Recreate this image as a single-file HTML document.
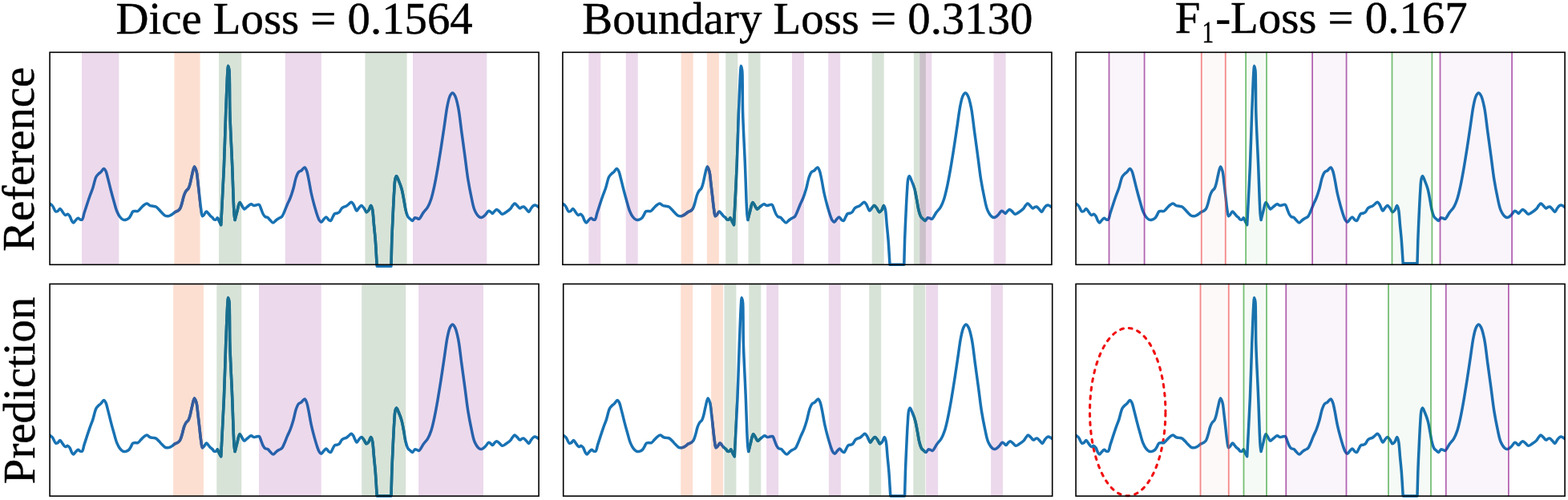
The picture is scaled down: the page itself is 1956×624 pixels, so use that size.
<!DOCTYPE html>
<html><head><meta charset="utf-8"><title>Loss comparison</title>
<style>text{text-rendering:geometricPrecision}html,body{margin:0;padding:0;background:#fff;overflow:hidden}svg{display:block}</style>
</head><body>
<svg width="1956" height="624" viewBox="0 0 1956 624">
<defs>
<path id="sig3288" d="M62.00,254.00 C63.25,255.08 64.61,255.85 65.75,257.25 C67.17,259.00 68.12,263.36 69.50,264.00 C70.29,264.37 71.19,263.93 72.00,263.50 C73.04,262.94 74.02,260.43 75.00,260.50 C76.10,260.57 77.15,263.39 78.25,264.75 C79.31,266.06 80.33,268.23 81.50,268.50 C82.44,268.72 83.60,267.07 84.50,267.25 C85.44,267.44 86.26,268.66 87.00,269.75 C87.99,271.21 88.61,274.02 89.50,275.50 C90.14,276.56 90.75,277.97 91.50,278.00 C92.38,278.03 93.47,275.73 94.50,274.75 C95.47,273.83 96.53,272.29 97.50,272.25 C98.36,272.21 99.12,273.72 100.00,274.00 C100.80,274.25 101.80,274.51 102.50,274.00 C103.78,273.06 104.10,268.81 105.00,266.00 C106.00,262.85 107.12,259.43 108.25,256.00 C109.45,252.36 110.72,248.38 112.00,244.75 C113.22,241.31 114.52,238.40 115.75,234.75 C117.20,230.44 118.29,223.61 120.00,220.50 C120.99,218.70 122.19,217.77 123.25,216.75 C124.10,215.93 124.87,215.59 125.75,214.75 C126.92,213.64 128.38,210.48 129.50,210.50 C130.43,210.51 131.28,212.14 132.00,213.50 C133.10,215.58 133.61,218.93 134.50,222.25 C135.66,226.57 136.97,232.37 138.25,237.25 C139.48,241.94 140.72,246.53 142.00,251.00 C143.22,255.27 144.30,259.99 145.75,263.50 C146.88,266.24 148.08,268.66 149.50,270.50 C150.64,271.98 151.89,273.41 153.25,274.00 C154.42,274.51 155.79,274.51 157.00,274.25 C158.29,273.97 159.72,273.19 160.75,272.25 C161.81,271.29 162.44,269.82 163.25,268.50 C164.11,267.08 164.71,264.76 165.75,264.00 C166.48,263.47 167.33,263.59 168.25,263.50 C169.37,263.39 170.84,263.98 172.00,263.50 C173.38,262.93 174.50,261.00 175.75,259.75 C177.00,258.50 178.17,256.98 179.50,256.00 C180.69,255.12 182.02,253.94 183.25,254.00 C184.52,254.06 185.69,255.96 187.00,256.50 C188.20,257.00 189.50,257.00 190.75,257.25 C192.00,257.50 193.33,257.40 194.50,258.00 C195.86,258.70 197.02,260.27 198.25,261.50 C199.52,262.77 200.73,264.23 202.00,265.50 C203.23,266.73 204.39,268.30 205.75,269.00 C206.92,269.60 208.38,269.80 209.50,269.75 C210.42,269.71 211.15,269.37 212.00,269.00 C212.98,268.57 214.00,267.92 215.00,267.25 C216.09,266.52 217.09,265.46 218.25,264.75 C219.42,264.04 220.93,263.75 222.00,263.00 C222.99,262.31 223.77,261.65 224.50,260.50 C225.56,258.83 226.22,256.03 227.00,253.50 C227.90,250.59 228.54,246.70 229.50,244.00 C230.25,241.88 230.99,240.03 232.00,238.50 C232.87,237.19 234.20,236.57 235.00,235.25 C235.93,233.73 236.36,231.93 237.00,229.75 C237.89,226.69 238.57,222.17 239.50,218.50 C240.41,214.93 241.43,208.08 242.50,208.00 C243.30,207.94 244.33,211.15 245.00,213.50 C246.07,217.21 246.36,223.30 247.00,228.50 C247.69,234.11 248.35,240.39 249.00,246.00 C249.60,251.19 250.07,256.68 250.75,261.00 C251.27,264.32 251.50,269.41 252.50,269.75 C253.04,269.93 253.81,268.75 254.50,268.00 C255.45,266.98 256.50,264.07 257.50,264.00 C258.34,263.94 259.17,265.59 260.00,266.50 C260.92,267.49 261.83,268.87 262.75,269.75 C263.50,270.47 264.31,270.82 265.00,271.50 C265.73,272.22 266.19,273.61 267.00,274.00 C267.72,274.35 268.81,274.34 269.50,274.00 C270.24,273.64 270.69,271.69 271.25,271.75 C271.96,271.83 272.53,274.56 273.25,276.00 C274.01,277.51 274.88,279.07 275.70,280.60 C276.20,271.07 276.66,262.59 277.20,252.00 C277.87,238.76 278.72,223.72 279.40,207.30 C280.24,187.16 281.00,158.80 281.70,140.00 C282.20,126.44 282.65,114.58 283.10,105.00 C283.41,98.32 283.67,92.15 284.00,88.00 C284.19,85.59 284.27,82.32 284.60,82.30 C284.92,82.28 285.59,85.26 285.90,87.50 C286.44,91.43 286.26,97.44 286.40,104.00 C286.60,113.69 286.42,126.14 286.80,140.00 C287.31,158.96 288.91,187.15 289.70,207.30 C290.35,223.72 290.79,240.85 291.30,252.00 C291.61,258.68 291.80,263.85 292.20,268.00 C292.46,270.65 292.80,272.33 293.10,274.50 C294.07,270.67 294.99,266.73 296.00,263.00 C296.96,259.44 297.79,252.82 299.00,252.60 C299.75,252.47 300.66,254.74 301.50,256.00 C302.49,257.49 303.47,260.75 304.50,261.00 C305.15,261.16 305.79,260.27 306.50,259.75 C307.42,259.08 308.42,258.06 309.50,257.25 C310.66,256.38 312.03,254.81 313.25,254.75 C314.36,254.70 315.41,256.32 316.50,256.50 C317.49,256.66 318.44,256.16 319.50,256.00 C320.68,255.82 322.26,254.95 323.25,255.50 C324.50,256.19 324.94,259.10 325.75,261.00 C326.61,263.01 327.29,265.56 328.25,267.25 C329.00,268.57 329.73,269.79 330.75,270.50 C331.68,271.14 333.01,270.88 334.00,271.50 C335.13,272.21 335.91,273.70 337.00,274.75 C338.15,275.87 339.50,278.00 340.75,278.00 C342.00,278.00 343.22,275.73 344.50,274.75 C345.72,273.82 347.03,272.98 348.25,272.25 C349.36,271.59 350.56,271.45 351.50,270.50 C352.75,269.24 353.50,266.92 354.50,264.75 C355.74,262.06 356.97,258.48 358.25,255.50 C359.47,252.66 360.82,250.25 362.00,247.25 C363.35,243.82 364.57,240.04 365.75,236.00 C367.09,231.38 368.10,224.87 369.50,221.00 C370.43,218.41 371.22,216.09 372.50,214.75 C373.43,213.77 374.65,213.79 375.75,213.00 C377.14,212.00 378.84,208.85 380.00,209.00 C381.04,209.13 381.78,211.28 382.50,213.00 C383.59,215.61 384.16,219.54 385.00,223.50 C386.08,228.58 387.03,235.41 388.25,241.00 C389.38,246.21 390.69,251.24 392.00,256.00 C393.20,260.37 394.55,265.07 395.75,268.50 C396.61,270.96 397.23,273.21 398.25,274.75 C398.99,275.87 399.88,277.28 400.75,277.25 C401.78,277.21 402.89,274.59 404.00,273.50 C404.98,272.54 406.03,270.94 407.00,271.00 C408.03,271.07 408.97,273.48 410.00,274.25 C410.82,274.86 411.76,275.73 412.50,275.50 C413.50,275.19 414.16,272.47 415.00,271.00 C415.82,269.56 416.40,267.56 417.50,266.75 C418.40,266.09 419.76,266.36 420.75,266.00 C421.66,265.67 422.45,265.46 423.25,264.75 C424.41,263.71 425.29,260.90 426.50,259.75 C427.43,258.87 428.52,258.43 429.50,258.00 C430.35,257.63 431.17,257.69 432.00,257.25 C433.01,256.71 433.97,255.57 435.00,254.75 C436.05,253.91 437.26,252.19 438.25,252.25 C439.17,252.31 440.06,253.76 440.75,254.75 C441.50,255.82 441.84,257.21 442.50,258.50 C443.24,259.94 444.11,262.93 445.00,263.00 C445.79,263.06 446.57,260.80 447.50,259.75 C448.48,258.63 449.67,256.50 450.75,256.50 C451.83,256.50 453.01,258.48 454.00,259.75 C455.12,261.18 455.88,264.56 457.00,264.75 C457.92,264.91 459.12,263.38 460.00,262.25 C461.12,260.81 461.97,256.47 462.75,256.50 C463.43,256.53 464.00,258.92 464.50,261.00 C465.52,265.25 465.86,274.42 466.50,281.00 C467.12,287.41 467.74,293.01 468.30,300.00 C468.99,308.60 469.57,319.20 470.20,328.80 C476.13,328.80 482.07,328.80 488.00,328.80 C488.27,319.20 488.45,309.87 488.80,300.00 C489.17,289.54 489.70,278.16 490.20,267.70 C490.67,257.82 491.13,247.08 491.70,238.90 C492.13,232.81 492.23,226.24 493.10,223.00 C493.51,221.48 494.02,219.80 494.60,219.80 C495.41,219.80 496.54,223.58 497.50,225.90 C498.71,228.82 500.07,232.30 501.10,236.00 C502.30,240.34 503.13,245.86 504.00,250.40 C504.78,254.47 505.19,258.45 506.10,262.00 C506.90,265.11 507.73,268.59 509.00,270.60 C509.86,271.96 511.03,272.64 512.00,273.50 C512.85,274.25 513.67,275.59 514.50,275.50 C515.51,275.39 516.42,272.14 517.50,271.75 C518.29,271.46 519.16,272.01 520.00,272.25 C520.89,272.51 521.77,273.59 522.70,273.30 C524.42,272.76 526.32,267.67 528.20,265.10 C529.96,262.69 532.06,260.87 533.60,258.30 C535.28,255.49 536.46,252.45 537.70,248.80 C539.28,244.13 540.51,238.27 541.80,232.40 C543.27,225.69 544.59,218.16 545.90,210.70 C547.29,202.79 548.58,194.58 549.90,186.20 C551.29,177.37 552.63,168.07 554.00,159.00 C555.37,149.93 556.58,139.06 558.10,131.80 C559.13,126.86 559.95,122.25 561.40,119.50 C562.27,117.84 563.37,116.02 564.40,116.00 C565.44,115.98 566.64,117.77 567.60,119.50 C569.33,122.64 570.49,128.60 571.70,134.50 C573.38,142.72 574.43,154.42 575.80,164.40 C577.17,174.39 578.55,184.41 579.90,194.40 C581.25,204.37 582.42,215.15 583.90,224.30 C585.16,232.13 586.53,239.29 588.00,246.00 C589.29,251.87 590.14,258.02 592.10,262.40 C593.59,265.73 595.69,269.20 597.60,270.50 C598.77,271.30 600.01,271.56 601.20,271.30 C602.65,270.98 604.15,269.28 605.50,268.00 C606.96,266.61 608.29,263.44 609.60,263.20 C610.49,263.03 611.39,264.06 612.20,264.60 C612.99,265.13 613.66,266.46 614.40,266.40 C615.26,266.33 616.09,264.33 617.00,263.50 C617.83,262.75 618.70,261.62 619.60,261.60 C620.53,261.58 621.49,262.71 622.50,263.50 C623.77,264.50 625.05,267.04 626.50,267.25 C627.89,267.45 629.47,265.95 631.00,265.00 C632.79,263.88 635.03,262.33 636.50,260.80 C637.78,259.47 638.48,257.70 639.50,256.50 C640.35,255.51 641.17,254.02 642.10,254.00 C643.15,253.98 644.42,255.98 645.50,257.00 C646.55,257.98 647.50,259.88 648.50,260.00 C649.33,260.10 650.16,258.83 651.00,258.50 C651.76,258.20 652.53,257.79 653.30,258.00 C654.36,258.29 655.45,259.95 656.50,261.00 C657.58,262.08 658.72,264.49 659.70,264.40 C660.73,264.30 661.51,261.32 662.50,260.00 C663.39,258.81 664.36,257.46 665.30,256.80 C665.97,256.33 666.62,256.01 667.30,256.00 C668.01,255.99 668.75,256.41 669.50,256.80 C670.41,257.28 671.37,258.13 672.30,258.80"/>
<path id="sig3299" d="M62.00,254.00 C63.25,255.08 64.61,255.85 65.75,257.25 C67.17,259.00 68.12,263.36 69.50,264.00 C70.29,264.37 71.19,263.93 72.00,263.50 C73.04,262.94 74.02,260.43 75.00,260.50 C76.10,260.57 77.15,263.39 78.25,264.75 C79.31,266.06 80.33,268.23 81.50,268.50 C82.44,268.72 83.60,267.07 84.50,267.25 C85.44,267.44 86.26,268.66 87.00,269.75 C87.99,271.21 88.61,274.02 89.50,275.50 C90.14,276.56 90.75,277.97 91.50,278.00 C92.38,278.03 93.47,275.73 94.50,274.75 C95.47,273.83 96.53,272.29 97.50,272.25 C98.36,272.21 99.12,273.72 100.00,274.00 C100.80,274.25 101.80,274.51 102.50,274.00 C103.78,273.06 104.10,268.81 105.00,266.00 C106.00,262.85 107.12,259.43 108.25,256.00 C109.45,252.36 110.72,248.38 112.00,244.75 C113.22,241.31 114.52,238.40 115.75,234.75 C117.20,230.44 118.29,223.61 120.00,220.50 C120.99,218.70 122.19,217.77 123.25,216.75 C124.10,215.93 124.87,215.59 125.75,214.75 C126.92,213.64 128.38,210.48 129.50,210.50 C130.43,210.51 131.28,212.14 132.00,213.50 C133.10,215.58 133.61,218.93 134.50,222.25 C135.66,226.57 136.97,232.37 138.25,237.25 C139.48,241.94 140.72,246.53 142.00,251.00 C143.22,255.27 144.30,259.99 145.75,263.50 C146.88,266.24 148.08,268.66 149.50,270.50 C150.64,271.98 151.89,273.41 153.25,274.00 C154.42,274.51 155.79,274.51 157.00,274.25 C158.29,273.97 159.72,273.19 160.75,272.25 C161.81,271.29 162.44,269.82 163.25,268.50 C164.11,267.08 164.71,264.76 165.75,264.00 C166.48,263.47 167.33,263.59 168.25,263.50 C169.37,263.39 170.84,263.98 172.00,263.50 C173.38,262.93 174.50,261.00 175.75,259.75 C177.00,258.50 178.17,256.98 179.50,256.00 C180.69,255.12 182.02,253.94 183.25,254.00 C184.52,254.06 185.69,255.96 187.00,256.50 C188.20,257.00 189.50,257.00 190.75,257.25 C192.00,257.50 193.33,257.40 194.50,258.00 C195.86,258.70 197.02,260.27 198.25,261.50 C199.52,262.77 200.73,264.23 202.00,265.50 C203.23,266.73 204.39,268.30 205.75,269.00 C206.92,269.60 208.38,269.80 209.50,269.75 C210.42,269.71 211.15,269.37 212.00,269.00 C212.98,268.57 214.00,267.92 215.00,267.25 C216.09,266.52 217.09,265.46 218.25,264.75 C219.42,264.04 220.93,263.75 222.00,263.00 C222.99,262.31 223.77,261.65 224.50,260.50 C225.56,258.83 226.22,256.03 227.00,253.50 C227.90,250.59 228.54,246.70 229.50,244.00 C230.25,241.88 230.99,240.03 232.00,238.50 C232.87,237.19 234.20,236.57 235.00,235.25 C235.93,233.73 236.36,231.93 237.00,229.75 C237.89,226.69 238.57,222.17 239.50,218.50 C240.41,214.93 241.43,208.08 242.50,208.00 C243.30,207.94 244.33,211.15 245.00,213.50 C246.07,217.21 246.36,223.30 247.00,228.50 C247.69,234.11 248.35,240.39 249.00,246.00 C249.60,251.19 250.07,256.68 250.75,261.00 C251.27,264.32 251.50,269.41 252.50,269.75 C253.04,269.93 253.81,268.75 254.50,268.00 C255.45,266.98 256.50,264.07 257.50,264.00 C258.34,263.94 259.17,265.59 260.00,266.50 C260.92,267.49 261.83,268.87 262.75,269.75 C263.50,270.47 264.31,270.82 265.00,271.50 C265.73,272.22 266.19,273.61 267.00,274.00 C267.72,274.35 268.81,274.34 269.50,274.00 C270.24,273.64 270.69,271.69 271.25,271.75 C271.96,271.83 272.53,274.56 273.25,276.00 C274.01,277.51 274.88,279.07 275.70,280.60 C276.20,271.07 276.66,262.59 277.20,252.00 C277.87,238.76 278.72,223.72 279.40,207.30 C280.24,187.16 281.00,158.80 281.70,140.00 C282.20,126.44 282.65,114.58 283.10,105.00 C283.41,98.32 283.67,92.15 284.00,88.00 C284.19,85.59 284.27,82.32 284.60,82.30 C284.92,82.28 285.59,85.26 285.90,87.50 C286.44,91.43 286.26,97.44 286.40,104.00 C286.60,113.69 286.42,126.14 286.80,140.00 C287.31,158.96 288.91,187.15 289.70,207.30 C290.35,223.72 290.79,240.85 291.30,252.00 C291.61,258.68 291.80,263.85 292.20,268.00 C292.46,270.65 292.80,272.33 293.10,274.50 C294.07,270.67 294.99,266.73 296.00,263.00 C296.96,259.44 297.79,252.82 299.00,252.60 C299.75,252.47 300.66,254.74 301.50,256.00 C302.49,257.49 303.47,260.75 304.50,261.00 C305.15,261.16 305.79,260.27 306.50,259.75 C307.42,259.08 308.42,258.06 309.50,257.25 C310.66,256.38 312.03,254.81 313.25,254.75 C314.36,254.70 315.41,256.32 316.50,256.50 C317.49,256.66 318.44,256.16 319.50,256.00 C320.68,255.82 322.26,254.95 323.25,255.50 C324.50,256.19 324.94,259.10 325.75,261.00 C326.61,263.01 327.29,265.56 328.25,267.25 C329.00,268.57 329.73,269.79 330.75,270.50 C331.68,271.14 333.01,270.88 334.00,271.50 C335.13,272.21 335.91,273.70 337.00,274.75 C338.15,275.87 339.50,278.00 340.75,278.00 C342.00,278.00 343.22,275.73 344.50,274.75 C345.72,273.82 347.03,272.98 348.25,272.25 C349.36,271.59 350.56,271.45 351.50,270.50 C352.75,269.24 353.50,266.92 354.50,264.75 C355.74,262.06 356.97,258.48 358.25,255.50 C359.47,252.66 360.82,250.25 362.00,247.25 C363.35,243.82 364.57,240.04 365.75,236.00 C367.09,231.38 368.10,224.87 369.50,221.00 C370.43,218.41 371.22,216.09 372.50,214.75 C373.43,213.77 374.65,213.79 375.75,213.00 C377.14,212.00 378.84,208.85 380.00,209.00 C381.04,209.13 381.78,211.28 382.50,213.00 C383.59,215.61 384.16,219.54 385.00,223.50 C386.08,228.58 387.03,235.41 388.25,241.00 C389.38,246.21 390.69,251.24 392.00,256.00 C393.20,260.37 394.55,265.07 395.75,268.50 C396.61,270.96 397.23,273.21 398.25,274.75 C398.99,275.87 399.88,277.28 400.75,277.25 C401.78,277.21 402.89,274.59 404.00,273.50 C404.98,272.54 406.03,270.94 407.00,271.00 C408.03,271.07 408.97,273.48 410.00,274.25 C410.82,274.86 411.76,275.73 412.50,275.50 C413.50,275.19 414.16,272.47 415.00,271.00 C415.82,269.56 416.40,267.56 417.50,266.75 C418.40,266.09 419.76,266.36 420.75,266.00 C421.66,265.67 422.45,265.46 423.25,264.75 C424.41,263.71 425.29,260.90 426.50,259.75 C427.43,258.87 428.52,258.43 429.50,258.00 C430.35,257.63 431.17,257.69 432.00,257.25 C433.01,256.71 433.97,255.57 435.00,254.75 C436.05,253.91 437.26,252.19 438.25,252.25 C439.17,252.31 440.06,253.76 440.75,254.75 C441.50,255.82 441.84,257.21 442.50,258.50 C443.24,259.94 444.11,262.93 445.00,263.00 C445.79,263.06 446.57,260.80 447.50,259.75 C448.48,258.63 449.67,256.50 450.75,256.50 C451.83,256.50 453.01,258.48 454.00,259.75 C455.12,261.18 455.88,264.56 457.00,264.75 C457.92,264.91 459.12,263.38 460.00,262.25 C461.12,260.81 461.97,256.47 462.75,256.50 C463.43,256.53 464.00,258.92 464.50,261.00 C465.52,265.25 465.86,274.42 466.50,281.00 C467.12,287.41 467.74,292.95 468.30,300.00 C469.00,308.84 469.57,319.93 470.20,329.90 C476.13,329.90 482.07,329.90 488.00,329.90 C488.27,319.93 488.44,310.16 488.80,300.00 C489.17,289.44 489.70,278.16 490.20,267.70 C490.67,257.82 491.13,247.08 491.70,238.90 C492.13,232.81 492.23,226.24 493.10,223.00 C493.51,221.48 494.02,219.80 494.60,219.80 C495.41,219.80 496.54,223.58 497.50,225.90 C498.71,228.82 500.07,232.30 501.10,236.00 C502.30,240.34 503.13,245.86 504.00,250.40 C504.78,254.47 505.19,258.45 506.10,262.00 C506.90,265.11 507.73,268.59 509.00,270.60 C509.86,271.96 511.03,272.64 512.00,273.50 C512.85,274.25 513.67,275.59 514.50,275.50 C515.51,275.39 516.42,272.14 517.50,271.75 C518.29,271.46 519.16,272.01 520.00,272.25 C520.89,272.51 521.77,273.59 522.70,273.30 C524.42,272.76 526.32,267.67 528.20,265.10 C529.96,262.69 532.06,260.87 533.60,258.30 C535.28,255.49 536.46,252.45 537.70,248.80 C539.28,244.13 540.51,238.27 541.80,232.40 C543.27,225.69 544.59,218.16 545.90,210.70 C547.29,202.79 548.58,194.58 549.90,186.20 C551.29,177.37 552.63,168.07 554.00,159.00 C555.37,149.93 556.58,139.06 558.10,131.80 C559.13,126.86 559.95,122.25 561.40,119.50 C562.27,117.84 563.37,116.02 564.40,116.00 C565.44,115.98 566.64,117.77 567.60,119.50 C569.33,122.64 570.49,128.60 571.70,134.50 C573.38,142.72 574.43,154.42 575.80,164.40 C577.17,174.39 578.55,184.41 579.90,194.40 C581.25,204.37 582.42,215.15 583.90,224.30 C585.16,232.13 586.53,239.29 588.00,246.00 C589.29,251.87 590.14,258.02 592.10,262.40 C593.59,265.73 595.69,269.20 597.60,270.50 C598.77,271.30 600.01,271.56 601.20,271.30 C602.65,270.98 604.15,269.28 605.50,268.00 C606.96,266.61 608.29,263.44 609.60,263.20 C610.49,263.03 611.39,264.06 612.20,264.60 C612.99,265.13 613.66,266.46 614.40,266.40 C615.26,266.33 616.09,264.33 617.00,263.50 C617.83,262.75 618.70,261.62 619.60,261.60 C620.53,261.58 621.49,262.71 622.50,263.50 C623.77,264.50 625.05,267.04 626.50,267.25 C627.89,267.45 629.47,265.95 631.00,265.00 C632.79,263.88 635.03,262.33 636.50,260.80 C637.78,259.47 638.48,257.70 639.50,256.50 C640.35,255.51 641.17,254.02 642.10,254.00 C643.15,253.98 644.42,255.98 645.50,257.00 C646.55,257.98 647.50,259.88 648.50,260.00 C649.33,260.10 650.16,258.83 651.00,258.50 C651.76,258.20 652.53,257.79 653.30,258.00 C654.36,258.29 655.45,259.95 656.50,261.00 C657.58,262.08 658.72,264.49 659.70,264.40 C660.73,264.30 661.51,261.32 662.50,260.00 C663.39,258.81 664.36,257.46 665.30,256.80 C665.97,256.33 666.62,256.01 667.30,256.00 C668.01,255.99 668.75,256.41 669.50,256.80 C670.41,257.28 671.37,258.13 672.30,258.80"/>
<path id="sig3303" d="M62.00,254.00 C63.25,255.08 64.61,255.85 65.75,257.25 C67.17,259.00 68.12,263.36 69.50,264.00 C70.29,264.37 71.19,263.93 72.00,263.50 C73.04,262.94 74.02,260.43 75.00,260.50 C76.10,260.57 77.15,263.39 78.25,264.75 C79.31,266.06 80.33,268.23 81.50,268.50 C82.44,268.72 83.60,267.07 84.50,267.25 C85.44,267.44 86.26,268.66 87.00,269.75 C87.99,271.21 88.61,274.02 89.50,275.50 C90.14,276.56 90.75,277.97 91.50,278.00 C92.38,278.03 93.47,275.73 94.50,274.75 C95.47,273.83 96.53,272.29 97.50,272.25 C98.36,272.21 99.12,273.72 100.00,274.00 C100.80,274.25 101.80,274.51 102.50,274.00 C103.78,273.06 104.10,268.81 105.00,266.00 C106.00,262.85 107.12,259.43 108.25,256.00 C109.45,252.36 110.72,248.38 112.00,244.75 C113.22,241.31 114.52,238.40 115.75,234.75 C117.20,230.44 118.29,223.61 120.00,220.50 C120.99,218.70 122.19,217.77 123.25,216.75 C124.10,215.93 124.87,215.59 125.75,214.75 C126.92,213.64 128.38,210.48 129.50,210.50 C130.43,210.51 131.28,212.14 132.00,213.50 C133.10,215.58 133.61,218.93 134.50,222.25 C135.66,226.57 136.97,232.37 138.25,237.25 C139.48,241.94 140.72,246.53 142.00,251.00 C143.22,255.27 144.30,259.99 145.75,263.50 C146.88,266.24 148.08,268.66 149.50,270.50 C150.64,271.98 151.89,273.41 153.25,274.00 C154.42,274.51 155.79,274.51 157.00,274.25 C158.29,273.97 159.72,273.19 160.75,272.25 C161.81,271.29 162.44,269.82 163.25,268.50 C164.11,267.08 164.71,264.76 165.75,264.00 C166.48,263.47 167.33,263.59 168.25,263.50 C169.37,263.39 170.84,263.98 172.00,263.50 C173.38,262.93 174.50,261.00 175.75,259.75 C177.00,258.50 178.17,256.98 179.50,256.00 C180.69,255.12 182.02,253.94 183.25,254.00 C184.52,254.06 185.69,255.96 187.00,256.50 C188.20,257.00 189.50,257.00 190.75,257.25 C192.00,257.50 193.33,257.40 194.50,258.00 C195.86,258.70 197.02,260.27 198.25,261.50 C199.52,262.77 200.73,264.23 202.00,265.50 C203.23,266.73 204.39,268.30 205.75,269.00 C206.92,269.60 208.38,269.80 209.50,269.75 C210.42,269.71 211.15,269.37 212.00,269.00 C212.98,268.57 214.00,267.92 215.00,267.25 C216.09,266.52 217.09,265.46 218.25,264.75 C219.42,264.04 220.93,263.75 222.00,263.00 C222.99,262.31 223.77,261.65 224.50,260.50 C225.56,258.83 226.22,256.03 227.00,253.50 C227.90,250.59 228.54,246.70 229.50,244.00 C230.25,241.88 230.99,240.03 232.00,238.50 C232.87,237.19 234.20,236.57 235.00,235.25 C235.93,233.73 236.36,231.93 237.00,229.75 C237.89,226.69 238.57,222.17 239.50,218.50 C240.41,214.93 241.43,208.08 242.50,208.00 C243.30,207.94 244.33,211.15 245.00,213.50 C246.07,217.21 246.36,223.30 247.00,228.50 C247.69,234.11 248.35,240.39 249.00,246.00 C249.60,251.19 250.07,256.68 250.75,261.00 C251.27,264.32 251.50,269.41 252.50,269.75 C253.04,269.93 253.81,268.75 254.50,268.00 C255.45,266.98 256.50,264.07 257.50,264.00 C258.34,263.94 259.17,265.59 260.00,266.50 C260.92,267.49 261.83,268.87 262.75,269.75 C263.50,270.47 264.31,270.82 265.00,271.50 C265.73,272.22 266.19,273.61 267.00,274.00 C267.72,274.35 268.81,274.34 269.50,274.00 C270.24,273.64 270.69,271.69 271.25,271.75 C271.96,271.83 272.53,274.56 273.25,276.00 C274.01,277.51 274.88,279.07 275.70,280.60 C276.20,271.07 276.66,262.59 277.20,252.00 C277.87,238.76 278.72,223.72 279.40,207.30 C280.24,187.16 281.00,158.80 281.70,140.00 C282.20,126.44 282.65,114.58 283.10,105.00 C283.41,98.32 283.67,92.15 284.00,88.00 C284.19,85.59 284.27,82.32 284.60,82.30 C284.92,82.28 285.59,85.26 285.90,87.50 C286.44,91.43 286.26,97.44 286.40,104.00 C286.60,113.69 286.42,126.14 286.80,140.00 C287.31,158.96 288.91,187.15 289.70,207.30 C290.35,223.72 290.79,240.85 291.30,252.00 C291.61,258.68 291.80,263.85 292.20,268.00 C292.46,270.65 292.80,272.33 293.10,274.50 C294.07,270.67 294.99,266.73 296.00,263.00 C296.96,259.44 297.79,252.82 299.00,252.60 C299.75,252.47 300.66,254.74 301.50,256.00 C302.49,257.49 303.47,260.75 304.50,261.00 C305.15,261.16 305.79,260.27 306.50,259.75 C307.42,259.08 308.42,258.06 309.50,257.25 C310.66,256.38 312.03,254.81 313.25,254.75 C314.36,254.70 315.41,256.32 316.50,256.50 C317.49,256.66 318.44,256.16 319.50,256.00 C320.68,255.82 322.26,254.95 323.25,255.50 C324.50,256.19 324.94,259.10 325.75,261.00 C326.61,263.01 327.29,265.56 328.25,267.25 C329.00,268.57 329.73,269.79 330.75,270.50 C331.68,271.14 333.01,270.88 334.00,271.50 C335.13,272.21 335.91,273.70 337.00,274.75 C338.15,275.87 339.50,278.00 340.75,278.00 C342.00,278.00 343.22,275.73 344.50,274.75 C345.72,273.82 347.03,272.98 348.25,272.25 C349.36,271.59 350.56,271.45 351.50,270.50 C352.75,269.24 353.50,266.92 354.50,264.75 C355.74,262.06 356.97,258.48 358.25,255.50 C359.47,252.66 360.82,250.25 362.00,247.25 C363.35,243.82 364.57,240.04 365.75,236.00 C367.09,231.38 368.10,224.87 369.50,221.00 C370.43,218.41 371.22,216.09 372.50,214.75 C373.43,213.77 374.65,213.79 375.75,213.00 C377.14,212.00 378.84,208.85 380.00,209.00 C381.04,209.13 381.78,211.28 382.50,213.00 C383.59,215.61 384.16,219.54 385.00,223.50 C386.08,228.58 387.03,235.41 388.25,241.00 C389.38,246.21 390.69,251.24 392.00,256.00 C393.20,260.37 394.55,265.07 395.75,268.50 C396.61,270.96 397.23,273.21 398.25,274.75 C398.99,275.87 399.88,277.28 400.75,277.25 C401.78,277.21 402.89,274.59 404.00,273.50 C404.98,272.54 406.03,270.94 407.00,271.00 C408.03,271.07 408.97,273.48 410.00,274.25 C410.82,274.86 411.76,275.73 412.50,275.50 C413.50,275.19 414.16,272.47 415.00,271.00 C415.82,269.56 416.40,267.56 417.50,266.75 C418.40,266.09 419.76,266.36 420.75,266.00 C421.66,265.67 422.45,265.46 423.25,264.75 C424.41,263.71 425.29,260.90 426.50,259.75 C427.43,258.87 428.52,258.43 429.50,258.00 C430.35,257.63 431.17,257.69 432.00,257.25 C433.01,256.71 433.97,255.57 435.00,254.75 C436.05,253.91 437.26,252.19 438.25,252.25 C439.17,252.31 440.06,253.76 440.75,254.75 C441.50,255.82 441.84,257.21 442.50,258.50 C443.24,259.94 444.11,262.93 445.00,263.00 C445.79,263.06 446.57,260.80 447.50,259.75 C448.48,258.63 449.67,256.50 450.75,256.50 C451.83,256.50 453.01,258.48 454.00,259.75 C455.12,261.18 455.88,264.56 457.00,264.75 C457.92,264.91 459.12,263.38 460.00,262.25 C461.12,260.81 461.97,256.47 462.75,256.50 C463.43,256.53 464.00,258.92 464.50,261.00 C465.52,265.25 465.86,274.42 466.50,281.00 C467.12,287.41 467.74,292.93 468.30,300.00 C469.00,308.92 469.57,320.20 470.20,330.30 C476.13,330.30 482.07,330.30 488.00,330.30 C488.27,320.20 488.44,310.26 488.80,300.00 C489.17,289.40 489.70,278.16 490.20,267.70 C490.67,257.82 491.13,247.08 491.70,238.90 C492.13,232.81 492.23,226.24 493.10,223.00 C493.51,221.48 494.02,219.80 494.60,219.80 C495.41,219.80 496.54,223.58 497.50,225.90 C498.71,228.82 500.07,232.30 501.10,236.00 C502.30,240.34 503.13,245.86 504.00,250.40 C504.78,254.47 505.19,258.45 506.10,262.00 C506.90,265.11 507.73,268.59 509.00,270.60 C509.86,271.96 511.03,272.64 512.00,273.50 C512.85,274.25 513.67,275.59 514.50,275.50 C515.51,275.39 516.42,272.14 517.50,271.75 C518.29,271.46 519.16,272.01 520.00,272.25 C520.89,272.51 521.77,273.59 522.70,273.30 C524.42,272.76 526.32,267.67 528.20,265.10 C529.96,262.69 532.06,260.87 533.60,258.30 C535.28,255.49 536.46,252.45 537.70,248.80 C539.28,244.13 540.51,238.27 541.80,232.40 C543.27,225.69 544.59,218.16 545.90,210.70 C547.29,202.79 548.58,194.58 549.90,186.20 C551.29,177.37 552.63,168.07 554.00,159.00 C555.37,149.93 556.58,139.06 558.10,131.80 C559.13,126.86 559.95,122.25 561.40,119.50 C562.27,117.84 563.37,116.02 564.40,116.00 C565.44,115.98 566.64,117.77 567.60,119.50 C569.33,122.64 570.49,128.60 571.70,134.50 C573.38,142.72 574.43,154.42 575.80,164.40 C577.17,174.39 578.55,184.41 579.90,194.40 C581.25,204.37 582.42,215.15 583.90,224.30 C585.16,232.13 586.53,239.29 588.00,246.00 C589.29,251.87 590.14,258.02 592.10,262.40 C593.59,265.73 595.69,269.20 597.60,270.50 C598.77,271.30 600.01,271.56 601.20,271.30 C602.65,270.98 604.15,269.28 605.50,268.00 C606.96,266.61 608.29,263.44 609.60,263.20 C610.49,263.03 611.39,264.06 612.20,264.60 C612.99,265.13 613.66,266.46 614.40,266.40 C615.26,266.33 616.09,264.33 617.00,263.50 C617.83,262.75 618.70,261.62 619.60,261.60 C620.53,261.58 621.49,262.71 622.50,263.50 C623.77,264.50 625.05,267.04 626.50,267.25 C627.89,267.45 629.47,265.95 631.00,265.00 C632.79,263.88 635.03,262.33 636.50,260.80 C637.78,259.47 638.48,257.70 639.50,256.50 C640.35,255.51 641.17,254.02 642.10,254.00 C643.15,253.98 644.42,255.98 645.50,257.00 C646.55,257.98 647.50,259.88 648.50,260.00 C649.33,260.10 650.16,258.83 651.00,258.50 C651.76,258.20 652.53,257.79 653.30,258.00 C654.36,258.29 655.45,259.95 656.50,261.00 C657.58,262.08 658.72,264.49 659.70,264.40 C660.73,264.30 661.51,261.32 662.50,260.00 C663.39,258.81 664.36,257.46 665.30,256.80 C665.97,256.33 666.62,256.01 667.30,256.00 C668.01,255.99 668.75,256.41 669.50,256.80 C670.41,257.28 671.37,258.13 672.30,258.80"/>
<path id="sig3322" d="M62.00,254.00 C63.25,255.08 64.61,255.85 65.75,257.25 C67.17,259.00 68.12,263.36 69.50,264.00 C70.29,264.37 71.19,263.93 72.00,263.50 C73.04,262.94 74.02,260.43 75.00,260.50 C76.10,260.57 77.15,263.39 78.25,264.75 C79.31,266.06 80.33,268.23 81.50,268.50 C82.44,268.72 83.60,267.07 84.50,267.25 C85.44,267.44 86.26,268.66 87.00,269.75 C87.99,271.21 88.61,274.02 89.50,275.50 C90.14,276.56 90.75,277.97 91.50,278.00 C92.38,278.03 93.47,275.73 94.50,274.75 C95.47,273.83 96.53,272.29 97.50,272.25 C98.36,272.21 99.12,273.72 100.00,274.00 C100.80,274.25 101.80,274.51 102.50,274.00 C103.78,273.06 104.10,268.81 105.00,266.00 C106.00,262.85 107.12,259.43 108.25,256.00 C109.45,252.36 110.72,248.38 112.00,244.75 C113.22,241.31 114.52,238.40 115.75,234.75 C117.20,230.44 118.29,223.61 120.00,220.50 C120.99,218.70 122.19,217.77 123.25,216.75 C124.10,215.93 124.87,215.59 125.75,214.75 C126.92,213.64 128.38,210.48 129.50,210.50 C130.43,210.51 131.28,212.14 132.00,213.50 C133.10,215.58 133.61,218.93 134.50,222.25 C135.66,226.57 136.97,232.37 138.25,237.25 C139.48,241.94 140.72,246.53 142.00,251.00 C143.22,255.27 144.30,259.99 145.75,263.50 C146.88,266.24 148.08,268.66 149.50,270.50 C150.64,271.98 151.89,273.41 153.25,274.00 C154.42,274.51 155.79,274.51 157.00,274.25 C158.29,273.97 159.72,273.19 160.75,272.25 C161.81,271.29 162.44,269.82 163.25,268.50 C164.11,267.08 164.71,264.76 165.75,264.00 C166.48,263.47 167.33,263.59 168.25,263.50 C169.37,263.39 170.84,263.98 172.00,263.50 C173.38,262.93 174.50,261.00 175.75,259.75 C177.00,258.50 178.17,256.98 179.50,256.00 C180.69,255.12 182.02,253.94 183.25,254.00 C184.52,254.06 185.69,255.96 187.00,256.50 C188.20,257.00 189.50,257.00 190.75,257.25 C192.00,257.50 193.33,257.40 194.50,258.00 C195.86,258.70 197.02,260.27 198.25,261.50 C199.52,262.77 200.73,264.23 202.00,265.50 C203.23,266.73 204.39,268.30 205.75,269.00 C206.92,269.60 208.38,269.80 209.50,269.75 C210.42,269.71 211.15,269.37 212.00,269.00 C212.98,268.57 214.00,267.92 215.00,267.25 C216.09,266.52 217.09,265.46 218.25,264.75 C219.42,264.04 220.93,263.75 222.00,263.00 C222.99,262.31 223.77,261.65 224.50,260.50 C225.56,258.83 226.22,256.03 227.00,253.50 C227.90,250.59 228.54,246.70 229.50,244.00 C230.25,241.88 230.99,240.03 232.00,238.50 C232.87,237.19 234.20,236.57 235.00,235.25 C235.93,233.73 236.36,231.93 237.00,229.75 C237.89,226.69 238.57,222.17 239.50,218.50 C240.41,214.93 241.43,208.08 242.50,208.00 C243.30,207.94 244.33,211.15 245.00,213.50 C246.07,217.21 246.36,223.30 247.00,228.50 C247.69,234.11 248.35,240.39 249.00,246.00 C249.60,251.19 250.07,256.68 250.75,261.00 C251.27,264.32 251.50,269.41 252.50,269.75 C253.04,269.93 253.81,268.75 254.50,268.00 C255.45,266.98 256.50,264.07 257.50,264.00 C258.34,263.94 259.17,265.59 260.00,266.50 C260.92,267.49 261.83,268.87 262.75,269.75 C263.50,270.47 264.31,270.82 265.00,271.50 C265.73,272.22 266.19,273.61 267.00,274.00 C267.72,274.35 268.81,274.34 269.50,274.00 C270.24,273.64 270.69,271.69 271.25,271.75 C271.96,271.83 272.53,274.56 273.25,276.00 C274.01,277.51 274.88,279.07 275.70,280.60 C276.20,271.07 276.66,262.59 277.20,252.00 C277.87,238.76 278.72,223.72 279.40,207.30 C280.24,187.16 281.00,158.80 281.70,140.00 C282.20,126.44 282.65,114.58 283.10,105.00 C283.41,98.32 283.67,92.15 284.00,88.00 C284.19,85.59 284.27,82.32 284.60,82.30 C284.92,82.28 285.59,85.26 285.90,87.50 C286.44,91.43 286.26,97.44 286.40,104.00 C286.60,113.69 286.42,126.14 286.80,140.00 C287.31,158.96 288.91,187.15 289.70,207.30 C290.35,223.72 290.79,240.85 291.30,252.00 C291.61,258.68 291.80,263.85 292.20,268.00 C292.46,270.65 292.80,272.33 293.10,274.50 C294.07,270.67 294.99,266.73 296.00,263.00 C296.96,259.44 297.79,252.82 299.00,252.60 C299.75,252.47 300.66,254.74 301.50,256.00 C302.49,257.49 303.47,260.75 304.50,261.00 C305.15,261.16 305.79,260.27 306.50,259.75 C307.42,259.08 308.42,258.06 309.50,257.25 C310.66,256.38 312.03,254.81 313.25,254.75 C314.36,254.70 315.41,256.32 316.50,256.50 C317.49,256.66 318.44,256.16 319.50,256.00 C320.68,255.82 322.26,254.95 323.25,255.50 C324.50,256.19 324.94,259.10 325.75,261.00 C326.61,263.01 327.29,265.56 328.25,267.25 C329.00,268.57 329.73,269.79 330.75,270.50 C331.68,271.14 333.01,270.88 334.00,271.50 C335.13,272.21 335.91,273.70 337.00,274.75 C338.15,275.87 339.50,278.00 340.75,278.00 C342.00,278.00 343.22,275.73 344.50,274.75 C345.72,273.82 347.03,272.98 348.25,272.25 C349.36,271.59 350.56,271.45 351.50,270.50 C352.75,269.24 353.50,266.92 354.50,264.75 C355.74,262.06 356.97,258.48 358.25,255.50 C359.47,252.66 360.82,250.25 362.00,247.25 C363.35,243.82 364.57,240.04 365.75,236.00 C367.09,231.38 368.10,224.87 369.50,221.00 C370.43,218.41 371.22,216.09 372.50,214.75 C373.43,213.77 374.65,213.79 375.75,213.00 C377.14,212.00 378.84,208.85 380.00,209.00 C381.04,209.13 381.78,211.28 382.50,213.00 C383.59,215.61 384.16,219.54 385.00,223.50 C386.08,228.58 387.03,235.41 388.25,241.00 C389.38,246.21 390.69,251.24 392.00,256.00 C393.20,260.37 394.55,265.07 395.75,268.50 C396.61,270.96 397.23,273.21 398.25,274.75 C398.99,275.87 399.88,277.28 400.75,277.25 C401.78,277.21 402.89,274.59 404.00,273.50 C404.98,272.54 406.03,270.94 407.00,271.00 C408.03,271.07 408.97,273.48 410.00,274.25 C410.82,274.86 411.76,275.73 412.50,275.50 C413.50,275.19 414.16,272.47 415.00,271.00 C415.82,269.56 416.40,267.56 417.50,266.75 C418.40,266.09 419.76,266.36 420.75,266.00 C421.66,265.67 422.45,265.46 423.25,264.75 C424.41,263.71 425.29,260.90 426.50,259.75 C427.43,258.87 428.52,258.43 429.50,258.00 C430.35,257.63 431.17,257.69 432.00,257.25 C433.01,256.71 433.97,255.57 435.00,254.75 C436.05,253.91 437.26,252.19 438.25,252.25 C439.17,252.31 440.06,253.76 440.75,254.75 C441.50,255.82 441.84,257.21 442.50,258.50 C443.24,259.94 444.11,262.93 445.00,263.00 C445.79,263.06 446.57,260.80 447.50,259.75 C448.48,258.63 449.67,256.50 450.75,256.50 C451.83,256.50 453.01,258.48 454.00,259.75 C455.12,261.18 455.88,264.56 457.00,264.75 C457.92,264.91 459.12,263.38 460.00,262.25 C461.12,260.81 461.97,256.47 462.75,256.50 C463.43,256.53 464.00,258.92 464.50,261.00 C465.52,265.25 465.86,274.42 466.50,281.00 C467.12,287.41 467.75,292.83 468.30,300.00 C469.02,309.32 469.57,321.47 470.20,332.20 C476.13,332.20 482.07,332.20 488.00,332.20 C488.27,321.47 488.43,310.74 488.80,300.00 C489.17,289.24 489.70,278.16 490.20,267.70 C490.67,257.82 491.13,247.08 491.70,238.90 C492.13,232.81 492.23,226.24 493.10,223.00 C493.51,221.48 494.02,219.80 494.60,219.80 C495.41,219.80 496.54,223.58 497.50,225.90 C498.71,228.82 500.07,232.30 501.10,236.00 C502.30,240.34 503.13,245.86 504.00,250.40 C504.78,254.47 505.19,258.45 506.10,262.00 C506.90,265.11 507.73,268.59 509.00,270.60 C509.86,271.96 511.03,272.64 512.00,273.50 C512.85,274.25 513.67,275.59 514.50,275.50 C515.51,275.39 516.42,272.14 517.50,271.75 C518.29,271.46 519.16,272.01 520.00,272.25 C520.89,272.51 521.77,273.59 522.70,273.30 C524.42,272.76 526.32,267.67 528.20,265.10 C529.96,262.69 532.06,260.87 533.60,258.30 C535.28,255.49 536.46,252.45 537.70,248.80 C539.28,244.13 540.51,238.27 541.80,232.40 C543.27,225.69 544.59,218.16 545.90,210.70 C547.29,202.79 548.58,194.58 549.90,186.20 C551.29,177.37 552.63,168.07 554.00,159.00 C555.37,149.93 556.58,139.06 558.10,131.80 C559.13,126.86 559.95,122.25 561.40,119.50 C562.27,117.84 563.37,116.02 564.40,116.00 C565.44,115.98 566.64,117.77 567.60,119.50 C569.33,122.64 570.49,128.60 571.70,134.50 C573.38,142.72 574.43,154.42 575.80,164.40 C577.17,174.39 578.55,184.41 579.90,194.40 C581.25,204.37 582.42,215.15 583.90,224.30 C585.16,232.13 586.53,239.29 588.00,246.00 C589.29,251.87 590.14,258.02 592.10,262.40 C593.59,265.73 595.69,269.20 597.60,270.50 C598.77,271.30 600.01,271.56 601.20,271.30 C602.65,270.98 604.15,269.28 605.50,268.00 C606.96,266.61 608.29,263.44 609.60,263.20 C610.49,263.03 611.39,264.06 612.20,264.60 C612.99,265.13 613.66,266.46 614.40,266.40 C615.26,266.33 616.09,264.33 617.00,263.50 C617.83,262.75 618.70,261.62 619.60,261.60 C620.53,261.58 621.49,262.71 622.50,263.50 C623.77,264.50 625.05,267.04 626.50,267.25 C627.89,267.45 629.47,265.95 631.00,265.00 C632.79,263.88 635.03,262.33 636.50,260.80 C637.78,259.47 638.48,257.70 639.50,256.50 C640.35,255.51 641.17,254.02 642.10,254.00 C643.15,253.98 644.42,255.98 645.50,257.00 C646.55,257.98 647.50,259.88 648.50,260.00 C649.33,260.10 650.16,258.83 651.00,258.50 C651.76,258.20 652.53,257.79 653.30,258.00 C654.36,258.29 655.45,259.95 656.50,261.00 C657.58,262.08 658.72,264.49 659.70,264.40 C660.73,264.30 661.51,261.32 662.50,260.00 C663.39,258.81 664.36,257.46 665.30,256.80 C665.97,256.33 666.62,256.01 667.30,256.00 C668.01,255.99 668.75,256.41 669.50,256.80 C670.41,257.28 671.37,258.13 672.30,258.80"/>
<clipPath id="cp11"><rect x="62.10" y="45.30" width="610.00" height="305.00"/></clipPath>
<clipPath id="cp12"><rect x="701.90" y="45.30" width="610.00" height="305.00"/></clipPath>
<clipPath id="cp13"><rect x="1342.10" y="45.30" width="610.00" height="305.00"/></clipPath>
<clipPath id="cp21"><rect x="62.10" y="334.40" width="610.00" height="304.70"/></clipPath>
<clipPath id="cp22"><rect x="702.70" y="334.40" width="610.00" height="304.70"/></clipPath>
<clipPath id="cp23"><rect x="1342.10" y="334.40" width="610.00" height="304.70"/></clipPath>
</defs>
<rect width="1956" height="624" fill="#fff"/>
<g clip-path="url(#cp11)" fill="none" stroke-linejoin="round" stroke-linecap="round" stroke-width="3.5">
<use href="#sig3322" stroke="#1872b3" transform="translate(0.00,0.00)"/>
<rect x="102.00" y="65.30" width="46.40" height="265.00" fill="rgba(128,0,128,0.15)"/>
<rect x="217.40" y="65.30" width="32.20" height="265.00" fill="rgba(245,110,50,0.22)"/>
<rect x="273.00" y="65.30" width="28.20" height="265.00" fill="rgba(40,100,40,0.18)"/>
<rect x="355.70" y="65.30" width="45.20" height="265.00" fill="rgba(128,0,128,0.15)"/>
<rect x="455.40" y="65.30" width="52.20" height="265.00" fill="rgba(40,100,40,0.18)"/>
<rect x="515.00" y="65.30" width="92.30" height="265.00" fill="rgba(128,0,128,0.15)"/>
<clipPath id="ov110"><rect x="217.40" y="65.30" width="32.20" height="265.00"/></clipPath>
<g clip-path="url(#ov110)"><use href="#sig3322" stroke="rgb(52,92,158)" transform="translate(0.00,0.00)"/></g>
<clipPath id="ov111"><rect x="273.00" y="65.30" width="28.20" height="265.00"/></clipPath>
<g clip-path="url(#ov111)"><use href="#sig3322" stroke="rgb(24,110,142)" transform="translate(0.00,0.00)"/></g>
<clipPath id="ov112"><rect x="455.40" y="65.30" width="52.20" height="265.00"/></clipPath>
<g clip-path="url(#ov112)"><use href="#sig3322" stroke="rgb(24,110,142)" transform="translate(0.00,0.00)"/></g>
</g>
<rect x="62.10" y="65.30" width="610.00" height="265.00" fill="none" stroke="#000" stroke-width="1.6"/>
<g clip-path="url(#cp12)" fill="none" stroke-linejoin="round" stroke-linecap="round" stroke-width="3.5">
<use href="#sig3303" stroke="#1872b3" transform="translate(639.80,0.00)"/>
<rect x="734.30" y="65.30" width="15" height="265.00" fill="rgba(128,0,128,0.15)"/>
<rect x="780.70" y="65.30" width="15" height="265.00" fill="rgba(128,0,128,0.15)"/>
<rect x="849.70" y="65.30" width="15" height="265.00" fill="rgba(245,110,50,0.22)"/>
<rect x="881.90" y="65.30" width="15" height="265.00" fill="rgba(245,110,50,0.22)"/>
<rect x="905.30" y="65.30" width="15" height="265.00" fill="rgba(40,100,40,0.18)"/>
<rect x="933.50" y="65.30" width="15" height="265.00" fill="rgba(40,100,40,0.18)"/>
<rect x="988.00" y="65.30" width="15" height="265.00" fill="rgba(128,0,128,0.15)"/>
<rect x="1033.20" y="65.30" width="15" height="265.00" fill="rgba(128,0,128,0.15)"/>
<rect x="1087.70" y="65.30" width="15" height="265.00" fill="rgba(40,100,40,0.18)"/>
<rect x="1139.90" y="65.30" width="15" height="265.00" fill="rgba(40,100,40,0.18)"/>
<rect x="1147.30" y="65.30" width="15" height="265.00" fill="rgba(128,0,128,0.15)"/>
<rect x="1239.60" y="65.30" width="15" height="265.00" fill="rgba(128,0,128,0.15)"/>
<clipPath id="ov120"><rect x="849.70" y="65.30" width="15.00" height="265.00"/></clipPath>
<g clip-path="url(#ov120)"><use href="#sig3303" stroke="rgb(52,92,158)" transform="translate(639.80,0.00)"/></g>
<clipPath id="ov121"><rect x="881.90" y="65.30" width="15.00" height="265.00"/></clipPath>
<g clip-path="url(#ov121)"><use href="#sig3303" stroke="rgb(52,92,158)" transform="translate(639.80,0.00)"/></g>
<clipPath id="ov122"><rect x="905.30" y="65.30" width="15.00" height="265.00"/></clipPath>
<g clip-path="url(#ov122)"><use href="#sig3303" stroke="rgb(24,110,142)" transform="translate(639.80,0.00)"/></g>
<clipPath id="ov123"><rect x="933.50" y="65.30" width="15.00" height="265.00"/></clipPath>
<g clip-path="url(#ov123)"><use href="#sig3303" stroke="rgb(24,110,142)" transform="translate(639.80,0.00)"/></g>
<clipPath id="ov124"><rect x="1087.70" y="65.30" width="15.00" height="265.00"/></clipPath>
<g clip-path="url(#ov124)"><use href="#sig3303" stroke="rgb(24,110,142)" transform="translate(639.80,0.00)"/></g>
<clipPath id="ov125"><rect x="1139.90" y="65.30" width="15.00" height="265.00"/></clipPath>
<g clip-path="url(#ov125)"><use href="#sig3303" stroke="rgb(24,110,142)" transform="translate(639.80,0.00)"/></g>
</g>
<rect x="701.90" y="65.30" width="610.00" height="265.00" fill="none" stroke="#000" stroke-width="1.6"/>
<g clip-path="url(#cp13)" fill="none" stroke-linejoin="round" stroke-linecap="round" stroke-width="3.5">
<use href="#sig3288" stroke="#1872b3" transform="translate(1280.00,0.00)"/>
<rect x="1383.50" y="65.30" width="44.10" height="265.00" fill="rgba(128,0,128,0.04)"/>
<rect x="1498.75" y="65.30" width="30.00" height="265.00" fill="rgba(235,60,60,0.03)"/>
<rect x="1554.10" y="65.30" width="25.90" height="265.00" fill="rgba(30,130,30,0.04)"/>
<rect x="1637.10" y="65.30" width="42.50" height="265.00" fill="rgba(128,0,128,0.04)"/>
<rect x="1736.50" y="65.30" width="49.90" height="265.00" fill="rgba(30,130,30,0.04)"/>
<rect x="1796.50" y="65.30" width="89.60" height="265.00" fill="rgba(128,0,128,0.04)"/>
<line x1="1383.50" y1="65.30" x2="1383.50" y2="330.30" stroke="rgba(128,0,128,0.6)" stroke-width="1.8"/>
<line x1="1427.60" y1="65.30" x2="1427.60" y2="330.30" stroke="rgba(128,0,128,0.6)" stroke-width="1.8"/>
<line x1="1498.75" y1="65.30" x2="1498.75" y2="330.30" stroke="rgba(235,60,60,0.6)" stroke-width="1.8"/>
<line x1="1528.75" y1="65.30" x2="1528.75" y2="330.30" stroke="rgba(235,60,60,0.6)" stroke-width="1.8"/>
<line x1="1554.10" y1="65.30" x2="1554.10" y2="330.30" stroke="rgba(30,150,30,0.6)" stroke-width="1.8"/>
<line x1="1580.00" y1="65.30" x2="1580.00" y2="330.30" stroke="rgba(30,150,30,0.6)" stroke-width="1.8"/>
<line x1="1637.10" y1="65.30" x2="1637.10" y2="330.30" stroke="rgba(128,0,128,0.6)" stroke-width="1.8"/>
<line x1="1679.60" y1="65.30" x2="1679.60" y2="330.30" stroke="rgba(128,0,128,0.6)" stroke-width="1.8"/>
<line x1="1736.50" y1="65.30" x2="1736.50" y2="330.30" stroke="rgba(30,150,30,0.6)" stroke-width="1.8"/>
<line x1="1786.40" y1="65.30" x2="1786.40" y2="330.30" stroke="rgba(30,150,30,0.6)" stroke-width="1.8"/>
<line x1="1796.50" y1="65.30" x2="1796.50" y2="330.30" stroke="rgba(128,0,128,0.6)" stroke-width="1.8"/>
<line x1="1886.10" y1="65.30" x2="1886.10" y2="330.30" stroke="rgba(128,0,128,0.6)" stroke-width="1.8"/>
</g>
<rect x="1342.10" y="65.30" width="610.00" height="265.00" fill="none" stroke="#000" stroke-width="1.6"/>
<g clip-path="url(#cp21)" fill="none" stroke-linejoin="round" stroke-linecap="round" stroke-width="3.5">
<use href="#sig3299" stroke="#1872b3" transform="translate(0.00,289.10)"/>
<rect x="216.10" y="354.40" width="37.90" height="264.70" fill="rgba(245,110,50,0.22)"/>
<rect x="270.30" y="354.40" width="30.90" height="264.70" fill="rgba(40,100,40,0.18)"/>
<rect x="323.00" y="354.40" width="77.80" height="264.70" fill="rgba(128,0,128,0.15)"/>
<rect x="451.10" y="354.40" width="55.10" height="264.70" fill="rgba(40,100,40,0.18)"/>
<rect x="522.00" y="354.40" width="81.00" height="264.70" fill="rgba(128,0,128,0.15)"/>
<clipPath id="ov210"><rect x="216.10" y="354.40" width="37.90" height="264.70"/></clipPath>
<g clip-path="url(#ov210)"><use href="#sig3299" stroke="rgb(52,92,158)" transform="translate(0.00,289.10)"/></g>
<clipPath id="ov211"><rect x="270.30" y="354.40" width="30.90" height="264.70"/></clipPath>
<g clip-path="url(#ov211)"><use href="#sig3299" stroke="rgb(24,110,142)" transform="translate(0.00,289.10)"/></g>
<clipPath id="ov212"><rect x="451.10" y="354.40" width="55.10" height="264.70"/></clipPath>
<g clip-path="url(#ov212)"><use href="#sig3299" stroke="rgb(24,110,142)" transform="translate(0.00,289.10)"/></g>
</g>
<rect x="62.10" y="354.40" width="610.00" height="264.70" fill="none" stroke="#000" stroke-width="1.6"/>
<g clip-path="url(#cp22)" fill="none" stroke-linejoin="round" stroke-linecap="round" stroke-width="3.5">
<use href="#sig3299" stroke="#1872b3" transform="translate(640.60,289.10)"/>
<rect x="849.20" y="354.40" width="15" height="264.70" fill="rgba(245,110,50,0.22)"/>
<rect x="887.10" y="354.40" width="15" height="264.70" fill="rgba(245,110,50,0.22)"/>
<rect x="903.40" y="354.40" width="15" height="264.70" fill="rgba(40,100,40,0.18)"/>
<rect x="934.30" y="354.40" width="15" height="264.70" fill="rgba(40,100,40,0.18)"/>
<rect x="956.10" y="354.40" width="15" height="264.70" fill="rgba(128,0,128,0.15)"/>
<rect x="1033.90" y="354.40" width="15" height="264.70" fill="rgba(128,0,128,0.15)"/>
<rect x="1084.20" y="354.40" width="15" height="264.70" fill="rgba(40,100,40,0.18)"/>
<rect x="1139.30" y="354.40" width="15" height="264.70" fill="rgba(40,100,40,0.18)"/>
<rect x="1155.10" y="354.40" width="15" height="264.70" fill="rgba(128,0,128,0.15)"/>
<rect x="1236.10" y="354.40" width="15" height="264.70" fill="rgba(128,0,128,0.15)"/>
<clipPath id="ov220"><rect x="849.20" y="354.40" width="15.00" height="264.70"/></clipPath>
<g clip-path="url(#ov220)"><use href="#sig3299" stroke="rgb(52,92,158)" transform="translate(640.60,289.10)"/></g>
<clipPath id="ov221"><rect x="887.10" y="354.40" width="15.00" height="264.70"/></clipPath>
<g clip-path="url(#ov221)"><use href="#sig3299" stroke="rgb(52,92,158)" transform="translate(640.60,289.10)"/></g>
<clipPath id="ov222"><rect x="903.40" y="354.40" width="15.00" height="264.70"/></clipPath>
<g clip-path="url(#ov222)"><use href="#sig3299" stroke="rgb(24,110,142)" transform="translate(640.60,289.10)"/></g>
<clipPath id="ov223"><rect x="934.30" y="354.40" width="15.00" height="264.70"/></clipPath>
<g clip-path="url(#ov223)"><use href="#sig3299" stroke="rgb(24,110,142)" transform="translate(640.60,289.10)"/></g>
<clipPath id="ov224"><rect x="1084.20" y="354.40" width="15.00" height="264.70"/></clipPath>
<g clip-path="url(#ov224)"><use href="#sig3299" stroke="rgb(24,110,142)" transform="translate(640.60,289.10)"/></g>
<clipPath id="ov225"><rect x="1139.30" y="354.40" width="15.00" height="264.70"/></clipPath>
<g clip-path="url(#ov225)"><use href="#sig3299" stroke="rgb(24,110,142)" transform="translate(640.60,289.10)"/></g>
</g>
<rect x="702.70" y="354.40" width="610.00" height="264.70" fill="none" stroke="#000" stroke-width="1.6"/>
<g clip-path="url(#cp23)" fill="none" stroke-linejoin="round" stroke-linecap="round" stroke-width="3.5">
<path d="M1453.9,514.1 A47.2,104.7 0 0 0 1359.5,514.1 A47.2,104.7 0 0 0 1453.9,514.1 Z" fill="none" stroke="#f01010" stroke-width="3.1" stroke-dasharray="3.8 7.1" stroke-dashoffset="1.9" stroke-linecap="round"/>
<use href="#sig3299" stroke="#1872b3" transform="translate(1280.00,289.10)"/>
<rect x="1497.50" y="354.40" width="35.25" height="264.70" fill="rgba(235,60,60,0.03)"/>
<rect x="1551.50" y="354.40" width="28.50" height="264.70" fill="rgba(30,130,30,0.04)"/>
<rect x="1604.25" y="354.40" width="75.25" height="264.70" fill="rgba(128,0,128,0.04)"/>
<rect x="1732.00" y="354.40" width="53.00" height="264.70" fill="rgba(30,130,30,0.04)"/>
<rect x="1803.75" y="354.40" width="78.15" height="264.70" fill="rgba(128,0,128,0.04)"/>
<line x1="1497.50" y1="354.40" x2="1497.50" y2="619.10" stroke="rgba(235,60,60,0.6)" stroke-width="1.8"/>
<line x1="1532.75" y1="354.40" x2="1532.75" y2="619.10" stroke="rgba(235,60,60,0.6)" stroke-width="1.8"/>
<line x1="1551.50" y1="354.40" x2="1551.50" y2="619.10" stroke="rgba(30,150,30,0.6)" stroke-width="1.8"/>
<line x1="1580.00" y1="354.40" x2="1580.00" y2="619.10" stroke="rgba(30,150,30,0.6)" stroke-width="1.8"/>
<line x1="1604.25" y1="354.40" x2="1604.25" y2="619.10" stroke="rgba(128,0,128,0.6)" stroke-width="1.8"/>
<line x1="1679.50" y1="354.40" x2="1679.50" y2="619.10" stroke="rgba(128,0,128,0.6)" stroke-width="1.8"/>
<line x1="1732.00" y1="354.40" x2="1732.00" y2="619.10" stroke="rgba(30,150,30,0.6)" stroke-width="1.8"/>
<line x1="1785.00" y1="354.40" x2="1785.00" y2="619.10" stroke="rgba(30,150,30,0.6)" stroke-width="1.8"/>
<line x1="1803.75" y1="354.40" x2="1803.75" y2="619.10" stroke="rgba(128,0,128,0.6)" stroke-width="1.8"/>
<line x1="1881.90" y1="354.40" x2="1881.90" y2="619.10" stroke="rgba(128,0,128,0.6)" stroke-width="1.8"/>
</g>
<rect x="1342.10" y="354.40" width="610.00" height="264.70" fill="none" stroke="#000" stroke-width="1.6"/>
<text transform="translate(367.1,42.2) scale(1,0.995)" text-anchor="middle" style="font-family:'Liberation Serif','Times New Roman',serif;font-size:56.8px" fill="#000" stroke="#000" stroke-width="0.45">Dice Loss = 0.1564</text>
<text transform="translate(1007.4,42.2) scale(1,0.995)" text-anchor="middle" style="font-family:'Liberation Serif','Times New Roman',serif;font-size:56.8px" fill="#000" stroke="#000" stroke-width="0.45">Boundary Loss = 0.3130</text>
<text transform="translate(1465.66,41.4) scale(1,0.995)" style="font-family:'Liberation Serif','Times New Roman',serif;font-size:56.8px" fill="#000" stroke="#000" stroke-width="0.45">F</text>
<text transform="translate(1499.4,52.7) scale(0.76,1)" style="font-family:'Liberation Serif','Times New Roman',serif;font-size:38.3px" fill="#000" stroke="#000" stroke-width="0.45">1</text>
<text transform="translate(1516.15,41.4) scale(1,0.995)" style="font-family:'Liberation Serif','Times New Roman',serif;font-size:56.8px" fill="#000" stroke="#000" stroke-width="0.45">-Loss = 0.167</text>
<text transform="translate(42.4,198.8) rotate(-90) scale(1,0.995)" text-anchor="middle" style="font-family:'Liberation Serif','Times New Roman',serif;font-size:56.8px" fill="#000" stroke="#000" stroke-width="0.45">Reference</text>
<text transform="translate(42.6,487.4) rotate(-90) scale(1,0.995)" text-anchor="middle" style="font-family:'Liberation Serif','Times New Roman',serif;font-size:56.8px" fill="#000" stroke="#000" stroke-width="0.45">Prediction</text>
</svg>
</body></html>
